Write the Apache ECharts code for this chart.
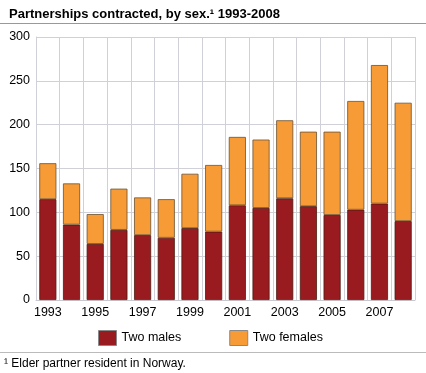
<!DOCTYPE html>
<html><head><meta charset="utf-8">
<script src="https://cdn.jsdelivr.net/npm/echarts@6/dist/echarts.min.js"></script>
<style>html,body{margin:0;padding:0;background:#fff}#c{width:426px;height:373px}</style>
</head><body><div id="c"></div>
<script>
const years = ['1993','1994','1995','1996','1997','1998','1999','2000','2001','2002','2003','2004','2005','2006','2007','2008'];
const twoMales = [115,86,64,80,74,71,82,78,108,105,116,107,97,103,110,90];
const twoFemales = [41,47,34,47,43,44,62,76,78,78,89,85,95,124,158,135];
const yTicks = [0,50,100,150,200,250,300];

const chart = echarts.init(document.getElementById('c'), null, {renderer:'canvas'});
const font = 'Liberation Sans, Arial, sans-serif';
chart.setOption({
  animation:false,
  textStyle:{fontFamily:font},
  title:{text:'Partnerships contracted, by sex.¹ 1993-2008', left:4, top:3,
    textStyle:{fontSize:13, fontWeight:'bold', color:'#000', fontFamily:font}},
  graphic:[
    {type:'line', shape:{x1:0,y1:23.5,x2:426,y2:23.5}, style:{stroke:'#999', lineWidth:1}},
    {type:'line', shape:{x1:0,y1:352.5,x2:426,y2:352.5}, style:{stroke:'#bbb', lineWidth:1}},
    {type:'text', left:4, top:358, style:{text:'¹ Elder partner resident in Norway.', fill:'#000', font:'12px '+font}}
  ],
  legend:{bottom:22, left:93, itemWidth:18, itemHeight:15, itemGap:48, icon:'rect',
    textStyle:{fontSize:12.5, color:'#000', fontFamily:font},
    itemStyle:{borderColor:'#888', borderWidth:1},
    data:['Two males','Two females']},
  grid:{left:36, right:11, top:37, bottom:73, containLabel:false},
  xAxis:{type:'category', data:years,
    axisLine:{show:true, lineStyle:{color:'#c8c8d0'}}, axisTick:{show:false},
    axisLabel:{interval:1, color:'#000', fontSize:12.5, margin:6, fontFamily:font},
    splitLine:{show:true, interval:0, lineStyle:{color:'#d0d0d8'}}},
  yAxis:{type:'value', min:yTicks[0], max:yTicks[yTicks.length-1], interval:50,
    axisLine:{show:true, lineStyle:{color:'#d0d0d8'}}, axisTick:{show:false},
    axisLabel:{color:'#000', fontSize:12.5, margin:6, fontFamily:font},
    splitLine:{show:true, lineStyle:{color:'#d0d0d8'}}},
  series:[
    {name:'Two males', type:'bar', stack:'a', data:twoMales, barCategoryGap:'28%',
      itemStyle:{color:'#9a1b1f', borderColor:'#4a1a12', borderWidth:0.8}},
    {name:'Two females', type:'bar', stack:'a', data:twoFemales,
      itemStyle:{color:'#f79b37', borderColor:'#6b5030', borderWidth:0.8}}
  ]
});
</script></body></html>
